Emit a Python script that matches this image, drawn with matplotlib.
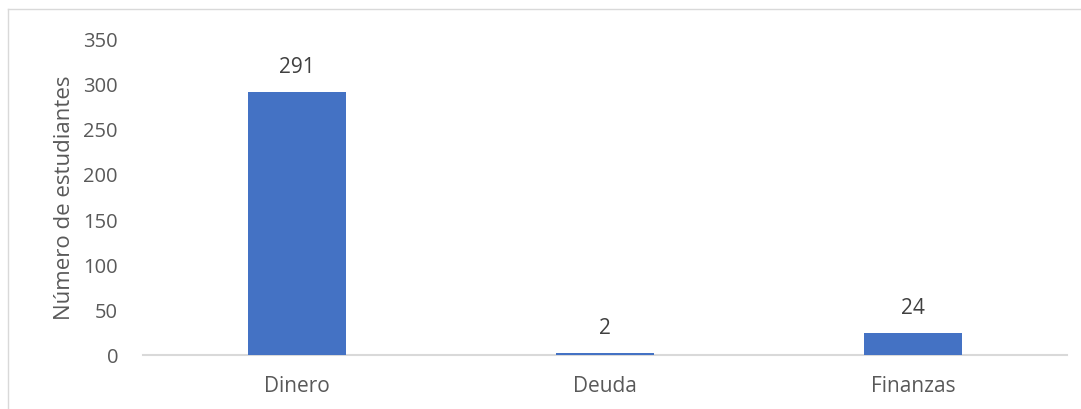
import matplotlib
matplotlib.use("Agg")
import matplotlib.pyplot as plt
from matplotlib.lines import Line2D

# Datos del grafico
categorias = ["Dinero", "Deuda", "Finanzas"]
estudiantes = [291, 2, 24]
yticks = [0, 50, 100, 150, 200, 250, 300, 350]

plt.rcParams['font.family'] = ['Open Sans', 'DejaVu Sans']

W, H = 1081, 410
fig = plt.figure(figsize=(W / 100, H / 100), dpi=100)
ax = fig.add_axes([143/W, 1 - 355.5/H, 924/W, (355.5 - 39.5)/H])

x = range(len(categorias))
ax.bar(x, estudiantes, width=0.315, color="#4472C4", zorder=3)

# Etiquetas de datos
for xi, v in zip(x, estudiantes):
    ax.annotate(str(v), (xi, v), xytext=(0, 10.5), textcoords="offset points",
                ha="center", va="bottom", fontsize=15, color="#404040")

ax.set_xlim(-0.5, len(categorias) - 0.5)
ax.set_ylim(0, 350)
ax.set_yticks(yticks)
ax.set_xticks(list(x))
ax.set_xticklabels(categorias)
ax.tick_params(axis="both", length=0, labelsize=14.5, labelcolor="#595959")
ax.tick_params(axis="y", pad=18)
ax.tick_params(axis="x", pad=15)
for lbl in ax.get_xticklabels():
    lbl.set_fontsize(15)

for s in ["top", "right", "left"]:
    ax.spines[s].set_visible(False)
ax.spines["bottom"].set_color("#D9D9D9")
ax.spines["bottom"].set_linewidth(1.5)

ax.set_ylabel("Número de estudiantes", fontsize=16, color="#595959", labelpad=6)

# Borde del area del grafico (solo arriba e izquierda visibles)
fig.add_artist(Line2D([8/W, 1], [1 - 10/H, 1 - 10/H], transform=fig.transFigure,
                      color="#D9D9D9", linewidth=1))
fig.add_artist(Line2D([8/W, 8/W], [0, 1 - 10/H], transform=fig.transFigure,
                      color="#D9D9D9", linewidth=1))

fig.savefig("out.png", dpi=100)
